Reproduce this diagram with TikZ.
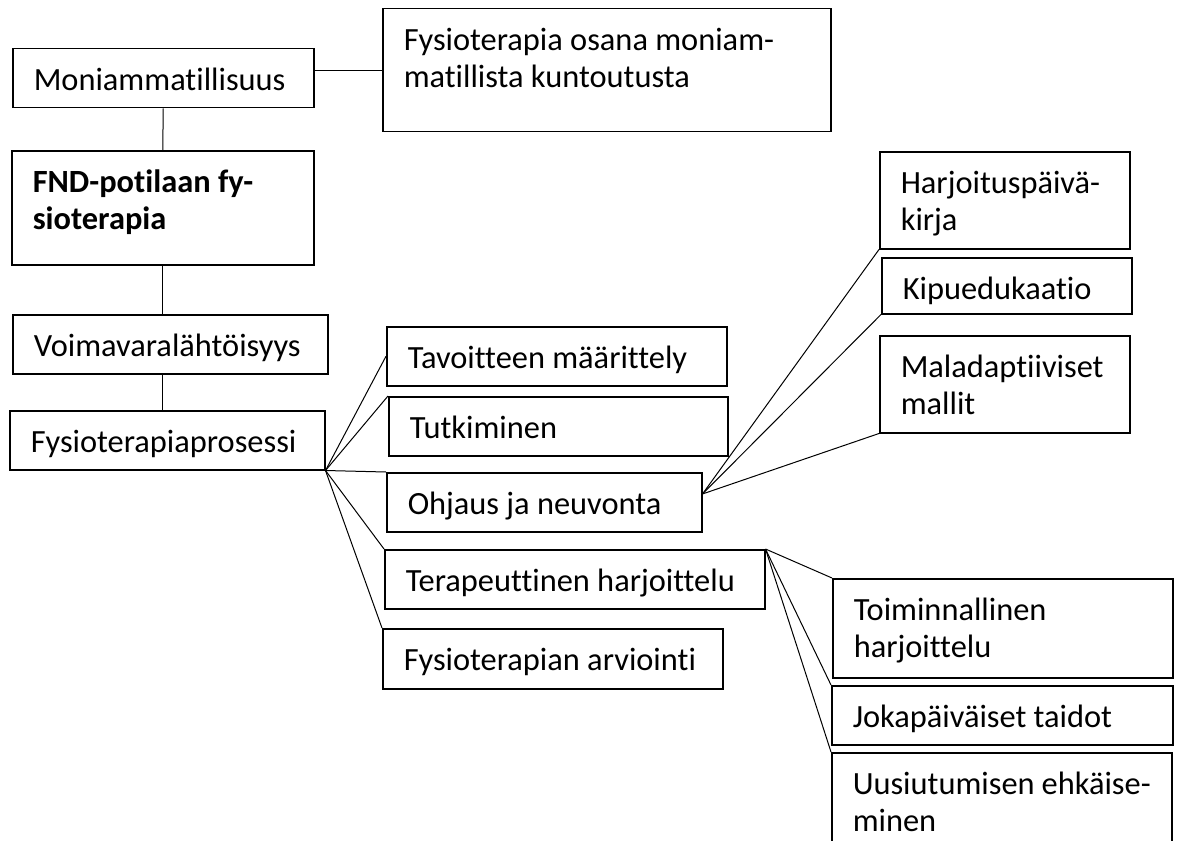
\documentclass[tikz,border=0pt]{standalone}
\usepackage{fontspec}
\setmainfont{Carlito}[Ligatures=CommonOff]
% box content: width and height in px, text starts at the top
\newcommand{\boxtext}[3]{\parbox[c][\dimexpr #2pt/2-16pt\relax][t]{\dimexpr #1pt/2-21pt\relax}{\raggedright\strut #3}}
\begin{document}
\begin{tikzpicture}[x=0.5pt,y=-0.5pt,line width=0.5pt]
    \tikzstyle{every node}=[draw,anchor=north west,inner xsep=10.5pt,inner ysep=8pt,line width=0.75pt,font=\fontsize{16.2pt}{18.5pt}\selectfont]
    \useasboundingbox (0,0) rectangle (1177,840);
    \draw (12,48) node (moni) {\boxtext{301}{59}{Moniammatillisuus}};
    \draw (382,8) node (osana) {\boxtext{448}{123}{Fysioterapia osana moniam-\\matillista kuntoutusta}};
    \draw (11,150) node (fnd) {\boxtext{302}{114}{\bfseries FND-potilaan fy-\\sioterapia}};
    \draw (12,314) node (voima) {\boxtext{315}{59}{Voimavaralähtöisyys}};
    \draw (9,410) node (prosessi) {\boxtext{315}{59}{Fysioterapiaprosessi}};
    \draw (386,326) node (tavoite) {\boxtext{340}{59}{Tavoitteen määrittely}};
    \draw (388,396) node (tutk) {\boxtext{339}{59}{Tutkiminen}};
    \draw (386,472) node (ohjaus) {\boxtext{315}{59}{Ohjaus ja neuvonta}};
    \draw (384,549) node (terap) {\boxtext{380}{59}{Terapeuttinen harjoittelu}};
    \draw (382,628) node (arvio) {\boxtext{340}{60}{Fysioterapian arviointi}};
    \draw (879,151) node (harj) {\boxtext{250}{97}{Harjoituspäivä-\\kirja}};
    \draw (881,257) node (kipu) {\boxtext{250}{56}{Kipuedukaatio}};
    \draw (879,335) node (malad) {\boxtext{250}{97}{Maladaptiiviset\\mallit}};
    \draw (832,578) node (toim) {\boxtext{340}{99}{Toiminnallinen\\harjoittelu}};
    \draw (831,685) node (joka) {\boxtext{341}{59}{Jokapäiväiset taidot}};
    \draw (831,752) node (uusi) {\boxtext{340}{110}{Uusiutumisen ehkäise-\\minen}};
    \draw (moni.east |- osana.west) -- (osana.west);
    \draw (moni.south) -- (fnd.north);
    \draw (fnd.south) -- (fnd.south |- voima.north);
    \draw (fnd.south |- voima.south) -- (fnd.south |- prosessi.north);
    \foreach \t in {tavoite.west,tutk.north west,ohjaus.north west,terap.north west,arvio.north west}
        \draw (prosessi.south east) -- (\t);
    \foreach \t in {harj,kipu,malad}
        \draw (ohjaus.3) -- (\t.south west);
    \foreach \t in {toim,joka,uusi}
        \draw (terap.north east) -- (\t.north west);
\end{tikzpicture}
\end{document}
